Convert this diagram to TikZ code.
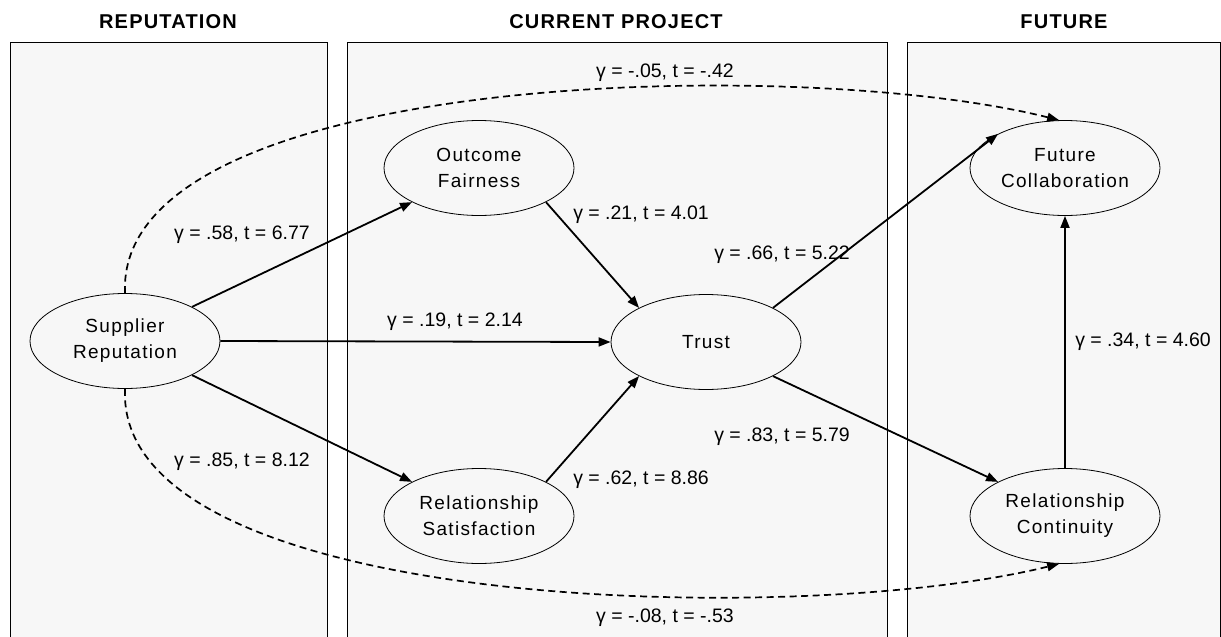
\documentclass[tikz,border=0pt]{standalone}
\usepackage{fontspec}
\setmainfont{Liberation Sans}
\newfontfamily\nodefont[LetterSpace=7]{Liberation Sans}
\newfontfamily\headfont[LetterSpace=6]{Liberation Sans}
\usetikzlibrary{arrows.meta,shapes.geometric}
\definecolor{panelgray}{HTML}{F7F7F7}
\begin{document}
\begin{tikzpicture}[x=1pt, y=-1pt,
        construct/.style={draw, ellipse, minimum width=190pt, minimum height=95pt, inner sep=0pt, align=center, line width=0.8pt, font=\nodefont\fontsize{19}{26}\selectfont},
        link/.style={-{Triangle[length=12pt,width=9pt]}, line width=1.8pt},
        dashlink/.style={link, line width=1.7pt, dash pattern=on 7pt off 4.5pt},
        coef/.style={font=\fontsize{19.5}{22}\selectfont},
        heading/.style={font=\headfont\bfseries\fontsize{20}{24}\selectfont},
        panel/.style={draw, line width=0.8pt}
    ]
        \useasboundingbox (0,0) rectangle (1221,637);

        % panels
        \fill[panelgray] (10,42) rectangle (327,637);
        \fill[panelgray] (347,42) rectangle (887,637);
        \fill[panelgray] (907,42) rectangle (1220,637);
        \draw[panel] (10,637) -- (10,42) -- (327,42) -- (327,637);
        \draw[panel] (347,637) -- (347,42) -- (887,42) -- (887,637);
        \draw[panel] (907,637) -- (907,42) -- (1220,42) -- (1220,637);

        \node[heading] (hrep) at (168,22) {REPUTATION};
        \node[heading] (hcur) at (616,22) {CURRENT PROJECT};
        \node[heading] (hfut) at (1064,22) {FUTURE};

        % constructs
        \node[construct] (rep) at (125,341) {Supplier\\Reputation};
        \node[construct] (fair) at (479,168) {Outcome\\Fairness};
        \node[construct] (trust) at (706,342) {Trust};
        \node[construct] (sat) at (479,516) {Relationship\\Satisfaction};
        \node[construct] (collab) at (1065,168) {Future\\Collaboration};
        \node[construct] (cont) at (1065,516) {Relationship\\Continuity};

        % paths
        \draw[link] (rep.27) -- (fair.207);
        \draw[link] (rep.east) -- (trust.west);
        \draw[link] (rep.-27) -- (sat.153);
        \draw[link] (fair.-27) -- (trust.153);
        \draw[link] (sat.27) -- (trust.207);
        \draw[link] (trust.27) -- (collab.153);
        \draw[link] (trust.-27) -- (cont.153);
        \draw[link] (cont.north) -- (collab.south);
        \draw[dashlink] (rep.north) .. controls (115,70) and (800,55) .. (collab.97);
        \draw[dashlink] (rep.south) .. controls (115,613) and (800,628) .. (cont.263);

        % coefficients
        \node[coef] (c1) at (665,73) {γ = -.05, t = -.42};
        \node[coef] (c2) at (242,235) {γ = .58, t = 6.77};
        \node[coef] (c3) at (641,215) {γ = .21, t = 4.01};
        \node[coef] (c4) at (782,255) {γ = .66, t = 5.22};
        \node[coef] (c5) at (455,322) {γ = .19, t = 2.14};
        \node[coef] (c6) at (1143,342) {γ = .34, t = 4.60};
        \node[coef] (c7) at (242,462) {γ = .85, t = 8.12};
        \node[coef] (c8) at (641,480) {γ = .62, t = 8.86};
        \node[coef] (c9) at (782,437) {γ = .83, t = 5.79};
        \node[coef] (c10) at (665,618) {γ = -.08, t = -.53};
    \end{tikzpicture}
\end{document}
